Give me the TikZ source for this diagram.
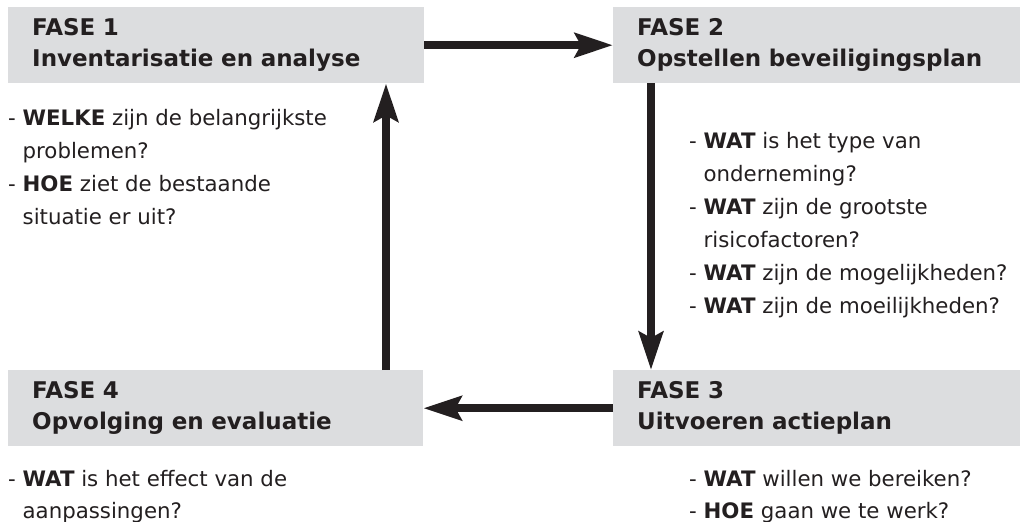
\documentclass[tikz,border=0pt]{standalone}
\usepackage{fontspec}
\setmainfont{DejaVu Sans}
\usetikzlibrary{arrows.meta}
\definecolor{boxgray}{HTML}{DCDDDF}
\definecolor{ink}{HTML}{231F20}
\newcommand\cont{\hphantom{- }}
\begin{document}
\begin{tikzpicture}[x=1pt,y=-1pt,
  phasebox/.style={fill=boxgray, draw=none, anchor=north west, align=left,
    inner xsep=24pt, inner ysep=0pt, minimum height=76pt, text=ink,
    font=\bfseries\fontsize{23}{31}\selectfont},
  flow/.style={draw=ink, line width=8pt,
    -{Stealth[length=38pt,width=24pt,inset=6pt]}},
  qlist/.style={anchor=north west, align=left, inner sep=0pt, text=ink,
    font=\fontsize{21.3}{33}\selectfont}]
\useasboundingbox (0,0) rectangle (1020,522);

\node[phasebox, text width=368pt] (f1) at (8,7) {FASE 1\\Inventarisatie en analyse};
\node[phasebox, text width=359pt] (f2) at (613,7) {FASE 2\\Opstellen beveiligingsplan};
\node[phasebox, text width=359pt] (f3) at (613,370) {FASE 3\\Uitvoeren actieplan};
\node[phasebox, text width=367pt] (f4) at (8,370) {FASE 4\\Opvolging en evaluatie};

\node[qlist] (q1) at (8,109) {- \textbf{WELKE} zijn de belangrijkste\\\cont problemen?\\- \textbf{HOE} ziet de bestaande\\\cont situatie er uit?};
\node[qlist] (q2) at (689,132) {- \textbf{WAT} is het type van\\\cont onderneming?\\- \textbf{WAT} zijn de grootste\\\cont risicofactoren?\\- \textbf{WAT} zijn de mogelijkheden?\\- \textbf{WAT} zijn de moeilijkheden?};
\node[qlist, font=\fontsize{21.3}{32}\selectfont] (q4) at (8,470) {- \textbf{WAT} is het effect van de\\\cont aanpassingen?};
\node[qlist, font=\fontsize{21.3}{32}\selectfont] (q3) at (689,470) {- \textbf{WAT} willen we bereiken?\\- \textbf{HOE} gaan we te werk?};

\draw[flow] (f1) -- (f2);
\draw[flow] ([xshift=38pt]f2.south west) -- ([xshift=38pt]f3.north west);
\draw[flow] (f3) -- (f4);
\draw[flow] ([xshift=378pt]f4.north west) -- ([xshift=378pt]f1.south west);
\end{tikzpicture}
\end{document}
